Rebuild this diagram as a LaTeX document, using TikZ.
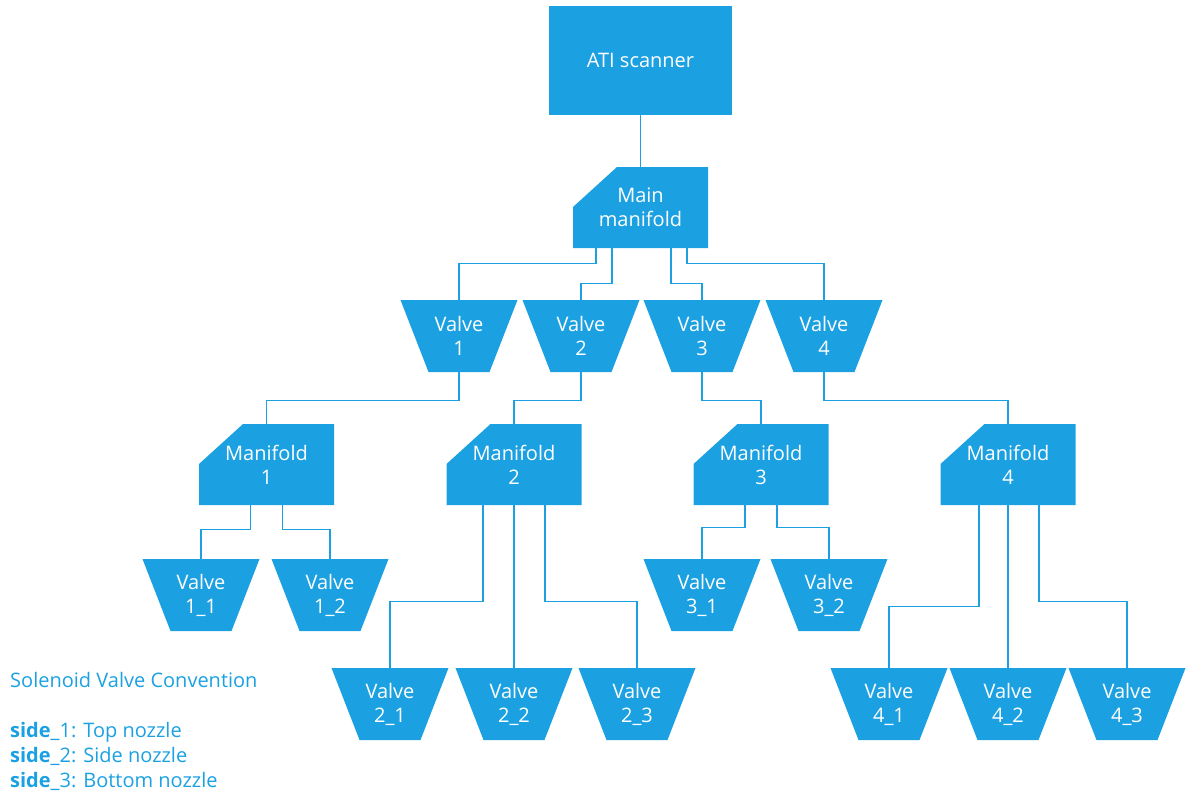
\documentclass[tikz,border=0pt]{standalone}
\usepackage{fontspec}
\setmainfont{Open Sans}
\usetikzlibrary{calc}
\definecolor{vblue}{RGB}{27,161,226}

\begin{document}
\begin{tikzpicture}[x=1pt,y=1pt,
	lbl/.style={text=white, align=center, font=\fontsize{20}{24}\selectfont},
	scanner/.style={lbl, fill=vblue, minimum width=183pt, minimum height=109pt},
	manifold/.style={lbl, minimum width=135pt, minimum height=81pt,
		path picture={\fill[vblue] (path picture bounding box.south west) -- (path picture bounding box.south east)
			-- (path picture bounding box.north east) -- ([xshift=44pt]path picture bounding box.north west)
			-- ([yshift=-40pt]path picture bounding box.north west) -- cycle;}},
	valve/.style={lbl, minimum width=117pt, minimum height=72pt,
		path picture={\fill[vblue] (path picture bounding box.north west) -- (path picture bounding box.north east)
			-- ([xshift=-28pt]path picture bounding box.south east) -- ([xshift=28pt]path picture bounding box.south west) -- cycle;}},
	link/.style={draw=vblue, line width=1.4pt},
	legend/.style={text=vblue, anchor=base west, inner sep=0pt, font=\fontsize{20}{25}\selectfont}]
	\useasboundingbox (0,0) rectangle (1186,-792);
	\node[scanner] (sc) at (640.5,-60.5) {ATI scanner};
	\node[manifold] (mm) at (640.5,-207.5) {Main\\manifold};
	\node[valve] (v1) at (459,-336) {Valve\\1};
	\node[valve] (v2) at (581,-336) {Valve\\2};
	\node[valve] (v3) at (702,-336) {Valve\\3};
	\node[valve] (v4) at (824,-336) {Valve\\4};
	\node[manifold] (m1) at (266.5,-464.5) {Manifold\\1};
	\node[manifold] (m2) at (514,-464.5) {Manifold\\2};
	\node[manifold] (m3) at (761,-464.5) {Manifold\\3};
	\node[manifold] (m4) at (1008,-464.5) {Manifold\\4};
	\node[valve] (v11) at (201,-595) {Valve\\1\_1};
	\node[valve] (v12) at (330,-595) {Valve\\1\_2};
	\node[valve] (v31) at (702,-595) {Valve\\3\_1};
	\node[valve] (v32) at (829,-595) {Valve\\3\_2};
	\node[valve] (v21) at (390,-704) {Valve\\2\_1};
	\node[valve] (v22) at (514,-704) {Valve\\2\_2};
	\node[valve] (v23) at (637,-704) {Valve\\2\_3};
	\node[valve] (v41) at (889,-704) {Valve\\4\_1};
	\node[valve] (v42) at (1008,-704) {Valve\\4\_2};
	\node[valve] (v43) at (1127,-704) {Valve\\4\_3};

	\draw[link] (sc.south) -- (mm.north);
	\draw[link] ([xshift=-44.5pt]mm.south) -- ++(0,-15) -| (v1.north);
	\draw[link] ([xshift=-28.5pt]mm.south) -- ++(0,-35) -| (v2.north);
	\draw[link] ([xshift=30.5pt]mm.south) -- ++(0,-35) -| (v3.north);
	\draw[link] ([xshift=46.5pt]mm.south) -- ++(0,-15) -| (v4.north);
	\foreach \v/\m in {v1/m1, v2/m2, v3/m3, v4/m4}
		\draw[link] (\v.south) -- ++(0,-28) -| (\m.north);
	\draw[link] ([xshift=-16pt]m1.south) -- ++(0,-24) -| (v11.north);
	\draw[link] ([xshift=16pt]m1.south) -- ++(0,-24) -| (v12.north);
	\draw[link] ([xshift=-16pt]m3.south) -- ++(0,-22) -| (v31.north);
	\draw[link] ([xshift=16pt]m3.south) -- ++(0,-22) -| (v32.north);
	\draw[link] ([xshift=-31pt]m2.south) -- ++(0,-96) -| (v21.north);
	\draw[link] (m2.south) -- (v22.north);
	\draw[link] ([xshift=31pt]m2.south) -- ++(0,-96) -| (v23.north);
	\draw[link] ([xshift=-29pt]m4.south) -- ++(0,-101) -| (v41.north);
	\draw[link] (m4.south) -- (v42.north);
	\draw[link] ([xshift=31pt]m4.south) -- ++(0,-96) -| (v43.north);

	\node[legend] (conv) at (10,-687) {Solenoid Valve Convention};
	\node[legend] (s1) at (10,-737) {\textbf{side}\_1: Top nozzle};
	\node[legend] (s2) at (10,-762) {\textbf{side}\_2: Side nozzle};
	\node[legend] (s3) at (10,-787) {\textbf{side}\_3: Bottom nozzle};
\end{tikzpicture}
\end{document}
